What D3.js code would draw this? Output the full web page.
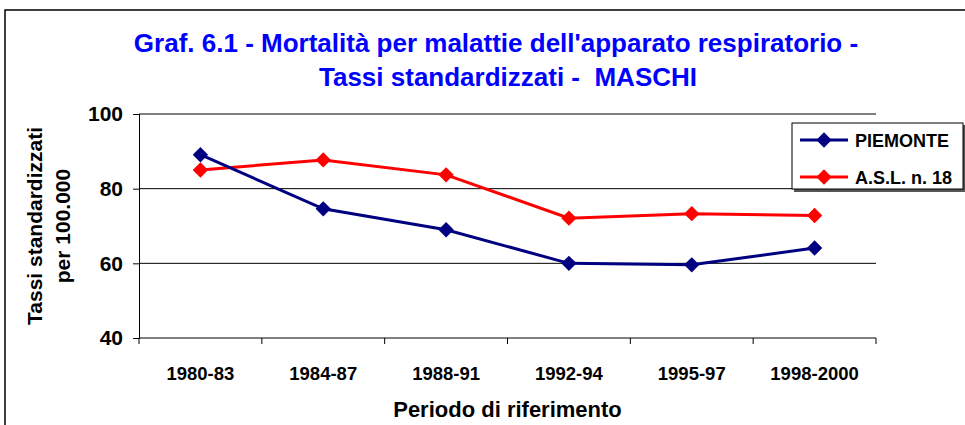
<!DOCTYPE html>
<html>
<head>
<meta charset="utf-8">
<script src="https://cdn.jsdelivr.net/npm/d3@7"></script>
<style>
  body { margin: 0; background: #fff; }
  svg { display: block; font-family: "Liberation Sans", Arial, sans-serif; }
</style>
</head>
<body>
<svg id="chart" width="965" height="425"></svg>
<script>
const periods = ["1980-83", "1984-87", "1988-91", "1992-94", "1995-97", "1998-2000"];
const piemonte = [89.1, 74.6, 69.0, 60.0, 59.6, 64.1];
const asl18 = [85.0, 87.7, 83.7, 72.1, 73.3, 72.8];
const seriesNames = ["PIEMONTE", "A.S.L. n. 18"];
const yTicks = [40, 60, 80, 100];

const svg = d3.select("#chart"),
    margin = { top: 114, right: 89, bottom: 87, left: 139 },
    width = 965 - margin.left - margin.right,
    height = 425 - margin.top - margin.bottom;

// outer chart frame
svg.append("path")
    .attr("d", "M5,425 V10 H965")
    .attr("fill", "none")
    .attr("stroke", "#000")
    .attr("stroke-width", 1.5);

svg.append("text")
    .attr("x", 496).attr("y", 52)
    .attr("text-anchor", "middle")
    .style("font-size", "26px").style("font-weight", "bold")
    .style("fill", "#0000ff")
    .text("Graf. 6.1 - Mortalità per malattie dell'apparato respiratorio -");
svg.append("text")
    .attr("x", 508).attr("y", 86)
    .attr("text-anchor", "middle")
    .style("font-size", "26px").style("font-weight", "bold")
    .style("fill", "#0000ff")
    .style("white-space", "pre")
    .text("Tassi standardizzati -  MASCHI");

const chart = svg.append("g").attr("transform", `translate(${margin.left},${margin.top})`);

const x = d3.scaleBand().domain(periods).range([0, width]);
const y = d3.scaleLinear().domain([40, 100]).range([height, 0]);

// grid lines
chart.append("g")
    .selectAll("line")
    .data(yTicks.filter(d => d > 40))
    .join("line")
    .attr("x1", 0).attr("x2", width)
    .attr("y1", d => y(d)).attr("y2", d => y(d))
    .attr("stroke", "#000").attr("stroke-width", 1);

// y axis
chart.append("g")
    .call(d3.axisLeft(y).tickValues(yTicks).tickSize(6).tickPadding(10))
    .call(g => g.selectAll("text")
        .style("font-family", "'Liberation Sans', Arial, sans-serif")
        .style("font-size", "21px").style("font-weight", "bold").style("fill", "#000"))
    .call(g => g.selectAll("path, line").attr("stroke", "#000"));

// x axis: ticks at category boundaries
const xAxis = chart.append("g").attr("transform", `translate(0,${height})`);
xAxis.append("line").attr("x1", 0).attr("x2", width).attr("stroke", "#000");
xAxis.selectAll("line.tick")
    .data(periods.map(p => x(p)).concat([width]))
    .join("line")
    .attr("class", "tick")
    .attr("x1", d => d).attr("x2", d => d)
    .attr("y1", 0).attr("y2", 6)
    .attr("stroke", "#000");
xAxis.selectAll("text")
    .data(periods)
    .join("text")
    .attr("x", d => x(d) + x.bandwidth() / 2)
    .attr("y", 42)
    .attr("text-anchor", "middle")
    .style("font-size", "18.5px").style("font-weight", "bold")
    .text(d => d);

chart.append("text")
    .attr("x", width / 2).attr("y", height + 79)
    .attr("text-anchor", "middle")
    .style("font-size", "22px").style("font-weight", "bold")
    .text("Periodo di riferimento");

chart.append("g")
    .attr("transform", `translate(${-margin.left + 42},${height / 2}) rotate(-90)`)
    .selectAll("text")
    .data(["Tassi standardizzati", "per 100.000"])
    .join("text")
    .attr("x", 0).attr("y", (d, i) => i * 28)
    .attr("text-anchor", "middle")
    .style("font-size", "21px").style("font-weight", "bold")
    .text(d => d);

const line = d3.line()
    .x((d, i) => x(periods[i]) + x.bandwidth() / 2)
    .y(d => y(d));

const diamond = d3.symbol(d3.symbolSquare, 118);
const series = [
    { name: seriesNames[0], values: piemonte, color: "#000080" },
    { name: seriesNames[1], values: asl18, color: "#ff0000" }
];

// red drawn first, navy on top (as in the reference at 1980-83)
[series[1], series[0]].forEach(s => {
    chart.append("path")
        .datum(s.values)
        .attr("fill", "none")
        .attr("stroke", s.color)
        .attr("stroke-width", 3)
        .attr("d", line);
    chart.append("g")
        .selectAll("path")
        .data(s.values)
        .join("path")
        .attr("transform", (d, i) => `translate(${x(periods[i]) + x.bandwidth() / 2},${y(d)}) rotate(45)`)
        .attr("d", diamond)
        .attr("fill", s.color);
});

// legend
const legend = svg.append("g").attr("transform", "translate(792,123)");
legend.append("rect")
    .attr("x", 2).attr("y", 2).attr("width", 172).attr("height", 67)
    .attr("fill", "#555");
legend.append("rect")
    .attr("width", 171).attr("height", 66)
    .attr("fill", "#fff").attr("stroke", "#000");
series.forEach((s, i) => {
    const ly = 17 + i * 37;
    const row = legend.append("g").attr("transform", `translate(0,${ly})`);
    row.append("line")
        .attr("x1", 8).attr("x2", 56)
        .attr("stroke", s.color).attr("stroke-width", 3);
    row.append("path")
        .attr("transform", "translate(32,0) rotate(45)")
        .attr("d", diamond)
        .attr("fill", s.color);
    row.append("text")
        .attr("x", 63).attr("y", 7)
        .style("font-size", "18px").style("font-weight", "bold")
        .text(s.name);
});
</script>
</body>
</html>
